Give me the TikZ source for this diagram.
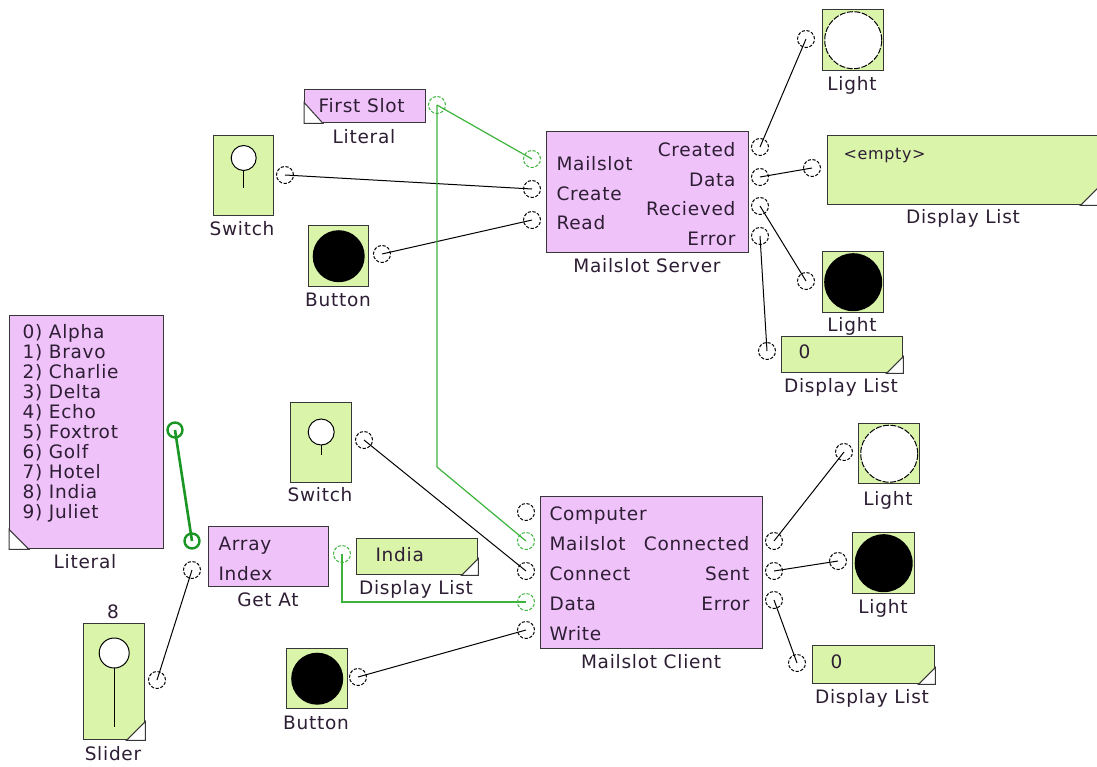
\documentclass[tikz,border=0pt]{standalone}
\usepackage{fontspec}
\setmainfont{DejaVu Sans}[LetterSpace=4]
\definecolor{txt}{RGB}{45,30,52}
\definecolor{bord}{RGB}{55,55,55}
\definecolor{pinkf}{RGB}{240,194,250}
\definecolor{greenf}{RGB}{218,244,170}
\definecolor{gwire}{RGB}{60,180,60}
\definecolor{gbold}{RGB}{25,150,35}
\begin{document}
\begin{tikzpicture}[x=1pt,y=-1pt,
 every node/.style={font=\fontsize{18.5}{20}\selectfont, text=txt},
 pinkbox/.style={draw=bord, fill=pinkf, line width=1.4pt, rectangle, anchor=north west, inner sep=0pt},
 greenbox/.style={draw=bord, fill=greenf, line width=1.4pt, rectangle, anchor=north west, inner sep=0pt},
 port/.style={circle, draw=black, line width=1pt, dash pattern=on 3.2pt off 1.6pt, minimum size=17pt, inner sep=0pt},
 gport/.style={port, draw=gwire},
 bport/.style={circle, draw=gbold, line width=2.4pt, minimum size=15pt, inner sep=0pt},
 wire/.style={draw=black, line width=1pt},
 gw/.style={draw=gwire, line width=1.2pt},
 gwb/.style={draw=gbold, line width=2.6pt},
 lbl/.style={anchor=base},
 ltxt/.style={anchor=base west},
 rtxt/.style={anchor=base east},
 wlight/.style={fill=white, draw=black, line width=1pt, dash pattern=on 6pt off 1.5pt},
 corner/.style={fill=white, draw=bord, line width=1pt},
 knob/.style={fill=white, draw=black, line width=1pt}
]
\useasboundingbox (0,0) rectangle (1097,766);
\fill[white] (0,0) rectangle (1097,766);

% ---------- boxes ----------
\node[pinkbox, minimum width=121pt, minimum height=33pt] (litA) at (304,89) {};
\node[greenbox, minimum width=60pt, minimum height=80pt] (sw1) at (213,135) {};
\node[greenbox, minimum width=60pt, minimum height=61pt] (bt1) at (308,225) {};
\node[pinkbox, minimum width=202pt, minimum height=121pt] (srv) at (546,131) {};
\node[greenbox, minimum width=61pt, minimum height=61pt] (lt1) at (822,9) {};
\node[greenbox, minimum width=270pt, minimum height=69pt] (dl1) at (827,135) {};
\node[greenbox, minimum width=61pt, minimum height=61pt] (lt2) at (822,251) {};
\node[greenbox, minimum width=121pt, minimum height=36pt] (dl2) at (781,336) {};

\node[pinkbox, minimum width=154pt, minimum height=233pt] (litB) at (9,315) {};
\node[pinkbox, minimum width=120pt, minimum height=60pt] (ga) at (208,526) {};
\node[greenbox, minimum width=121pt, minimum height=36pt] (dl3) at (356,538) {};
\node[greenbox, minimum width=61pt, minimum height=116pt] (sl) at (83,623) {};
\node[greenbox, minimum width=61pt, minimum height=80pt] (sw2) at (290,402) {};
\node[greenbox, minimum width=61pt, minimum height=60pt] (bt2) at (286,648) {};
\node[pinkbox, minimum width=222pt, minimum height=152pt] (cl) at (540,496) {};
\node[greenbox, minimum width=61pt, minimum height=60pt] (lt3) at (858,423) {};
\node[greenbox, minimum width=62pt, minimum height=61pt] (lt4) at (852,532) {};
\node[greenbox, minimum width=122pt, minimum height=38pt] (dl4) at (812,645) {};

% ---------- corners ----------
\filldraw[corner] (litA.south west) -- ++(0,-21) -- ++(19,21) -- cycle;
\filldraw[corner] (litB.south west) -- ++(0,-20) -- ++(20,20) -- cycle;
\filldraw[corner] (dl1.south east) -- ++(-18,0) -- ++(18,-18) -- cycle;
\filldraw[corner] (dl2.south east) -- ++(-17,0) -- ++(17,-17) -- cycle;
\filldraw[corner] (dl3.south east) -- ++(-17,0) -- ++(17,-17) -- cycle;
\filldraw[corner] (dl4.south east) -- ++(-17,0) -- ++(17,-17) -- cycle;
\filldraw[corner] (sl.south east) -- ++(-19,0) -- ++(19,-19) -- cycle;

% ---------- inner graphics ----------
\draw[black, line width=1pt] (sw1.center |- 0,170) -- (sw1.center |- 0,188);
\draw[knob] (sw1.center |- 0,158) circle (12.5pt);
\draw[black, line width=1pt] (sw2.center |- 0,445) -- (sw2.center |- 0,455);
\draw[knob] (sw2.center |- 0,432) circle (13pt);
\draw[black, line width=1pt] (sl.center |- 0,668) -- (sl.center |- 0,727);
\draw[knob] (sl.center |- 0,653) circle (15pt);
\fill[black] (bt1.center) circle (26pt);
\fill[black] (bt2.center) circle (26pt);
\draw[wlight] (lt1.center) circle (28.5pt);
\draw[wlight] (lt3.center) circle (28.5pt);
\fill[black] (lt2.center) circle (29pt);
\fill[black] (lt4.center) circle (29pt);

% ---------- texts in boxes ----------
\node[ltxt] (tA) at (315,112) {First Slot};
\node[ltxt] (t1) at (553,170) {Mailslot};
\node[ltxt] (t2) at (553,200) {Create};
\node[ltxt] (t3) at (553,229) {Read};
\node[rtxt] (t4) at (739,156) {Created};
\node[rtxt] (t5) at (739,186) {Data};
\node[rtxt] (t6) at (739,215) {Recieved};
\node[rtxt] (t7) at (739,245) {Error};
\node[ltxt, font=\fontsize{16}{18}\selectfont] (t8) at (840,159) {<empty>};
\node[ltxt] (t9) at (795,358) {0};
\node[ltxt] (b0) at (19,338) {0) Alpha};
\node[ltxt] (b1) at (19,358) {1) Bravo};
\node[ltxt] (b2) at (19,378) {2) Charlie};
\node[ltxt] (b3) at (19,398) {3) Delta};
\node[ltxt] (b4) at (19,418) {4) Echo};
\node[ltxt] (b5) at (19,438) {5) Foxtrot};
\node[ltxt] (b6) at (19,458) {6) Golf};
\node[ltxt] (b7) at (19,478) {7) Hotel};
\node[ltxt] (b8) at (19,498) {8) India};
\node[ltxt] (b9) at (19,518) {9) Juliet};
\node[ltxt] (g1) at (215,550) {Array};
\node[ltxt] (g2) at (215,580) {Index};
\node[ltxt] (g3) at (372,561) {India};
\node[ltxt] (c1) at (546,520) {Computer};
\node[ltxt] (c2) at (546,550) {Mailslot};
\node[ltxt] (c3) at (546,580) {Connect};
\node[ltxt] (c4) at (546,610) {Data};
\node[ltxt] (c5) at (546,640) {Write};
\node[rtxt] (c6) at (753,550) {Connected};
\node[rtxt] (c7) at (753,580) {Sent};
\node[rtxt] (c8) at (753,610) {Error};
\node[ltxt] (c9) at (827,668) {0};

% ---------- labels ----------
\node[lbl] (lA) at (364,143) {Literal};
\node[lbl] (l1) at (242,235) {Switch};
\node[lbl] (l2) at (338,306) {Button};
\node[lbl] (l3) at (647,272) {Mailslot Server};
\node[lbl] (l4) at (852,90) {Light};
\node[lbl] (l5) at (963,223) {Display List};
\node[lbl] (l6) at (852,331) {Light};
\node[lbl] (l7) at (841,392) {Display List};
\node[lbl] (l8) at (85,568) {Literal};
\node[lbl] (l9) at (268,606) {Get At};
\node[lbl] (l10) at (416,594) {Display List};
\node[lbl] (l11) at (113,618) {8};
\node[lbl] (l12) at (113,760) {Slider};
\node[lbl] (l13) at (320,501) {Switch};
\node[lbl] (l14) at (316,729) {Button};
\node[lbl] (l15) at (651,668) {Mailslot Client};
\node[lbl] (l16) at (888,505) {Light};
\node[lbl] (l17) at (883,613) {Light};
\node[lbl] (l18) at (872,703) {Display List};

% ---------- ports ----------
\node[gport] (pA) at (437,105) {};
\node[port] (psw1) at (285,175) {};
\node[port] (pbt1) at (382,254) {};
\node[gport] (smail) at (532,159) {};
\node[port] (screate) at (532,189) {};
\node[port] (sread) at (532,220) {};
\node[port] (screated) at (760,147) {};
\node[port] (sdata) at (760,177) {};
\node[port] (srecv) at (760,206) {};
\node[port] (serr) at (760,236) {};
\node[port] (plt1) at (806,39) {};
\node[port] (pdl1) at (812,168) {};
\node[port] (plt2) at (806,281) {};
\node[port] (pdl2) at (767,351) {};

\node[bport] (pB) at (175,430) {};
\node[bport] (garr) at (192,541) {};
\node[port] (gidx) at (192,570) {};
\node[gport] (gout) at (342,554) {};
\node[port] (psl) at (157,680) {};
\node[port] (psw2) at (364,440) {};
\node[port] (pbt2) at (358,677) {};
\node[port] (ccomp) at (526,512) {};
\node[gport] (cmail) at (526,541) {};
\node[port] (cconn) at (526,571) {};
\node[gport] (cdata) at (526,602) {};
\node[port] (cwrite) at (526,630) {};
\node[port] (cconnd) at (774,541) {};
\node[port] (csent) at (774,571) {};
\node[port] (cerr) at (774,600) {};
\node[port] (plt3) at (844,452) {};
\node[port] (plt4) at (838,561) {};
\node[port] (pdl4) at (797,663) {};

\coordinate (gbend) at (437,467);

% ---------- wires ----------
\draw[wire] (psw1.center) -- (screate.center);
\draw[wire] (pbt1.center) -- (sread.center);
\draw[gw] (pA.center) -- (smail.center);
\draw[gw] (pA.center) -- (gbend) -- (cmail.center);
\draw[wire] (screated.center) -- (plt1.center);
\draw[wire] (sdata.center) -- (pdl1.center);
\draw[wire] (srecv.center) -- (plt2.center);
\draw[wire] (serr.center) -- (pdl2.center);
\draw[gwb] (pB.center) -- (garr.center);
\draw[wire] (psl.center) -- (gidx.center);
\draw[gw] (gout.center) |- (cdata.center);
\draw[wire] (psw2.center) -- (cconn.center);
\draw[wire] (pbt2.center) -- (cwrite.center);
\draw[wire] (cconnd.center) -- (plt3.center);
\draw[wire] (csent.center) -- (plt4.center);
\draw[wire] (cerr.center) -- (pdl4.center);
\end{tikzpicture}
\end{document}
